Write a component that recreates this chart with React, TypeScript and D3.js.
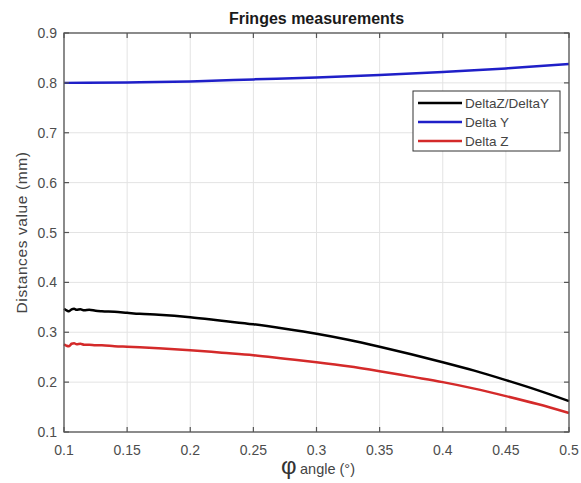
import React from "react";
import * as d3 from "d3";

const angleBlack = [0.1, 0.102, 0.104, 0.106, 0.108, 0.11, 0.113, 0.116, 0.12, 0.125, 0.13, 0.14, 0.15, 0.16, 0.175, 0.2, 0.225, 0.25, 0.275, 0.3, 0.325, 0.35, 0.375, 0.4, 0.425, 0.45, 0.475, 0.5];
const deltaRatio = [0.347, 0.344, 0.342, 0.346, 0.347, 0.345, 0.346, 0.344, 0.345, 0.343, 0.342, 0.341, 0.339, 0.337, 0.335, 0.330, 0.323, 0.316, 0.307, 0.297, 0.285, 0.271, 0.256, 0.240, 0.223, 0.204, 0.184, 0.162];

const angleRed = [0.1, 0.102, 0.104, 0.106, 0.108, 0.11, 0.113, 0.116, 0.12, 0.125, 0.13, 0.14, 0.15, 0.16, 0.175, 0.2, 0.225, 0.25, 0.275, 0.3, 0.325, 0.35, 0.375, 0.4, 0.425, 0.45, 0.475, 0.5];
const deltaZ = [0.276, 0.273, 0.272, 0.277, 0.278, 0.276, 0.277, 0.275, 0.275, 0.274, 0.274, 0.272, 0.271, 0.270, 0.268, 0.264, 0.259, 0.254, 0.247, 0.240, 0.232, 0.222, 0.211, 0.200, 0.187, 0.172, 0.156, 0.138];

const angleBlue = [0.1, 0.15, 0.2, 0.25, 0.3, 0.35, 0.4, 0.45, 0.5];
const deltaY = [0.800, 0.801, 0.803, 0.807, 0.811, 0.816, 0.822, 0.829, 0.838];

const xTicks = [0.1, 0.15, 0.2, 0.25, 0.3, 0.35, 0.4, 0.45, 0.5];
const xTickLabels = ["0.1", "0.15", "0.2", "0.25", "0.3", "0.35", "0.4", "0.45", "0.5"];
const yTicks = [0.1, 0.2, 0.3, 0.4, 0.5, 0.6, 0.7, 0.8, 0.9];
const yTickLabels = ["0.1", "0.2", "0.3", "0.4", "0.5", "0.6", "0.7", "0.8", "0.9"];

const legendNames = ["DeltaZ/DeltaY", "Delta Y", "Delta Z"];
const legendColors = ["#000000", "#1f1fc8", "#d42a2a"];

export default function App() {
  const W = 581, H = 483;
  const L = 64, R = 569, T = 33, B = 432;
  const x = d3.scaleLinear().domain([0.1, 0.5]).range([L, R]);
  const y = d3.scaleLinear().domain([0.1, 0.9]).range([B, T]);
  const line = d3.line<[number, number]>().x(d => x(d[0])).y(d => y(d[1])).curve(d3.curveMonotoneX);
  const series = [
    { xs: angleBlack, ys: deltaRatio, color: legendColors[0] },
    { xs: angleBlue, ys: deltaY, color: legendColors[1] },
    { xs: angleRed, ys: deltaZ, color: legendColors[2] },
  ];
  const font = "Arial, 'Liberation Sans', Helvetica, sans-serif";
  const axisColor = "#555";
  const tickColor = "#4d4d4d";
  const lg = { x: 413, y: 91, w: 147, h: 60 };
  return (
    <svg width={W} height={H} style={{ position: "absolute", left: 0, top: 0, background: "#fff" }} fontFamily={font}>
      <rect x={0} y={0} width={W} height={H} fill="#fff" />
      {xTicks.map((t, i) => (
        <line key={"gx" + i} x1={x(t)} x2={x(t)} y1={T} y2={B} stroke="#e3e3e3" strokeWidth={1} />
      ))}
      {yTicks.map((t, i) => (
        <line key={"gy" + i} x1={L} x2={R} y1={y(t)} y2={y(t)} stroke="#e3e3e3" strokeWidth={1} />
      ))}
      {series.map((s, i) => (
        <path key={"s" + i} d={line(s.xs.map((v, j) => [v, s.ys[j]]) as [number, number][]) || ""} fill="none" stroke={s.color} strokeWidth={2.5} strokeLinejoin="round" />
      ))}
      <rect x={L} y={T} width={R - L} height={B - T} fill="none" stroke={axisColor} strokeWidth={1.3} />
      {xTicks.map((t, i) => (
        <g key={"tx" + i}>
          <line x1={x(t)} x2={x(t)} y1={B} y2={B - 5} stroke={axisColor} strokeWidth={1.2} />
          <line x1={x(t)} x2={x(t)} y1={T} y2={T + 5} stroke={axisColor} strokeWidth={1.2} />
          <text x={x(t)} y={455} textAnchor="middle" fontSize={14} fill={tickColor}>{xTickLabels[i]}</text>
        </g>
      ))}
      {yTicks.map((t, i) => (
        <g key={"ty" + i}>
          <line x1={L} x2={L + 5} y1={y(t)} y2={y(t)} stroke={axisColor} strokeWidth={1.2} />
          <line x1={R} x2={R - 5} y1={y(t)} y2={y(t)} stroke={axisColor} strokeWidth={1.2} />
          <text x={57} y={y(t) + 5} textAnchor="end" fontSize={14} fill={tickColor}>{yTickLabels[i]}</text>
        </g>
      ))}
      <text x={(L + R) / 2} y={24} textAnchor="middle" fontSize={16} fontWeight="bold" fill="#1a1a1a">Fringes measurements</text>
      <text transform={`translate(27,${(T + B) / 2}) rotate(-90)`} textAnchor="middle" fontSize={15.5} letterSpacing={0.6} fill="#444">Distances value (mm)</text>
      <text x={281} y={474} fontSize={24} fill="#333">φ</text>
      <text x={300} y={474} fontSize={14.5} fill="#444">angle (°)</text>
      <rect x={lg.x} y={lg.y} width={lg.w} height={lg.h} fill="#fff" stroke="#333" strokeWidth={1} />
      {legendNames.map((n, i) => (
        <g key={"lg" + i}>
          <line x1={418} x2={462} y1={103 + i * 19} y2={103 + i * 19} stroke={legendColors[i]} strokeWidth={2.5} />
          <text x={465} y={103 + i * 19 + 5} fontSize={13.5} fill="#444">{n}</text>
        </g>
      ))}
    </svg>
  );
}
